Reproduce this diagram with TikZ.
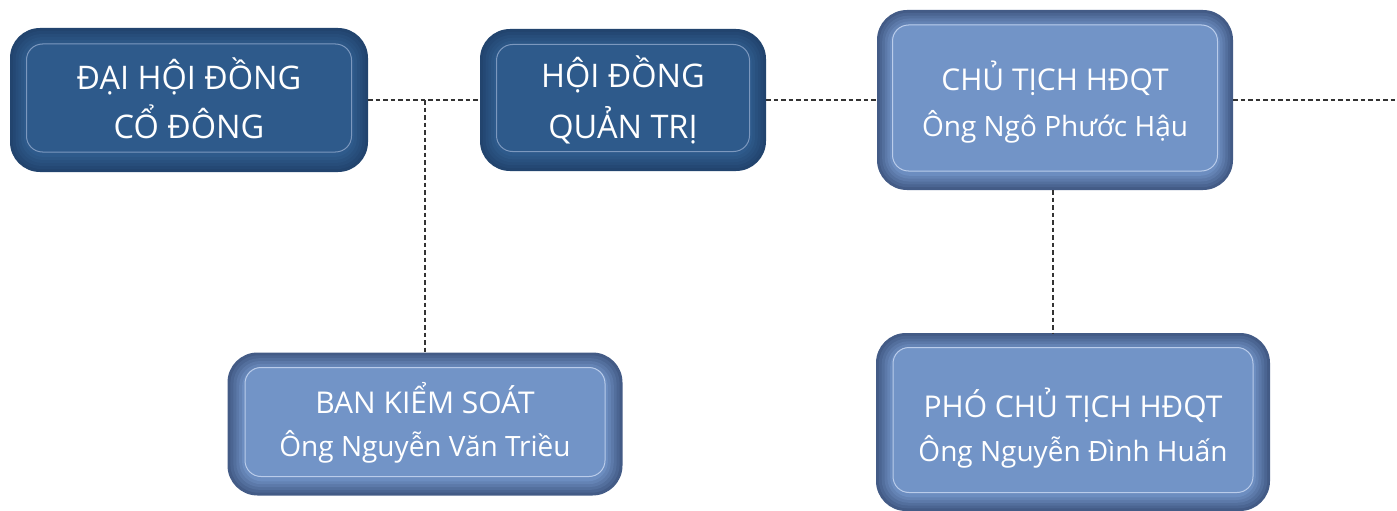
\documentclass[tikz,border=0pt]{standalone}
\usepackage{fontspec}
\setmainfont{Open Sans}
\definecolor{Dedge}{HTML}{22446E}
\definecolor{Dmid}{HTML}{2E5A8B}
\definecolor{Dinner}{HTML}{2E5A8B}
\definecolor{Dline}{HTML}{7C98BE}
\definecolor{Ledge}{HTML}{435B86}
\definecolor{Lmid}{HTML}{6C8DC0}
\definecolor{Linner}{HTML}{7294C7}
\definecolor{Lline}{HTML}{BACCEA}
\tikzset{
  link/.style={draw=black!80, line width=1.1pt, dash pattern=on 4.5pt off 3pt},
  boxtext/.style={text=white, align=center, inner sep=0pt},
}
\newcommand\hd{\fontsize{30}{30}\selectfont}
\newcommand\nm{\fontsize{28}{28}\selectfont}
% #1 name, #2 (x,y), #3 outer w, #4 outer h, #5 inner w, #6 inner h, #7 D/L, #8 text shift, #9 text
\newcommand\orgbox[9]{%
  \coordinate (#1-c) at #2;
  \node[fill=#7edge, rounded corners=30pt, minimum width=#3pt, minimum height=#4pt,
        inner sep=0pt, outer sep=0pt] (#1) at (#1-c) {};
  \foreach \k in {1,...,5}{%
    \pgfmathsetmacro\ww{#3-(#3-#5)*\k/6}%
    \pgfmathsetmacro\hh{#4-(#4-#6)*\k/6}%
    \pgfmathtruncatemacro\cc{\k*20}%
    \pgfmathsetmacro\rr{30-12*\k/6}%
    \node[fill=#7mid!\cc!#7edge, rounded corners=\rr pt, minimum width=\ww pt,
          minimum height=\hh pt, inner sep=0pt] at (#1-c) {};
  }%
  \node[fill=#7inner, draw=#7line, line width=1pt, rounded corners=16pt,
        minimum width=#5pt, minimum height=#6pt, inner sep=0pt]
        (#1-in) at ([yshift=2pt]#1-c) {};
  \node[boxtext] (#1-txt) at ([yshift=#8]#1-c) {#9};
}
\begin{document}
\begin{tikzpicture}[x=1pt,y=-1pt]
\useasboundingbox (0,0) rectangle (1397,511);
\orgbox{dhdcd}{(189,100)}{358}{144}{325}{108}{D}{1.5pt}{\parbox{330pt}{\centering\fontsize{32.5}{49}\selectfont ĐẠI HỘI ĐỒNG\\CỔ ĐÔNG}}
\orgbox{hdqt}{(623,100)}{286}{142}{253}{107}{D}{0.5pt}{\parbox{260pt}{\centering\fontsize{32.5}{51}\selectfont HỘI ĐỒNG\\QUẢN TRỊ}}
\orgbox{ct}{(1055,100)}{356}{180}{325}{146}{L}{-2pt}{{\hd CHỦ TỊCH HĐQT}\\[13pt]{\nm Ông Ngô Phước Hậu}}
\orgbox{bks}{(425,424)}{395}{143}{360}{109}{L}{1.5pt}{{\hd BAN KIỂM SOÁT}\\[16pt]{\nm Ông Nguyễn Văn Triều}}
\orgbox{pct}{(1073,422)}{394}{178}{360}{145}{L}{-6pt}{{\hd PHÓ CHỦ TỊCH HĐQT}\\[12pt]{\nm Ông Nguyễn Đình Huấn}}
\coordinate (j) at (425,100);
\coordinate (rend) at (1397,100);
\draw[link] (dhdcd.east) -- (hdqt.west);
\draw[link] (j) -- (bks.north);
\draw[link] (hdqt.east) -- (ct.west);
\draw[link] (ct.east) -- (rend);
\draw[link] (ct.south -| 1053,0) -- (pct.north -| 1053,0);
\end{tikzpicture}
\end{document}
